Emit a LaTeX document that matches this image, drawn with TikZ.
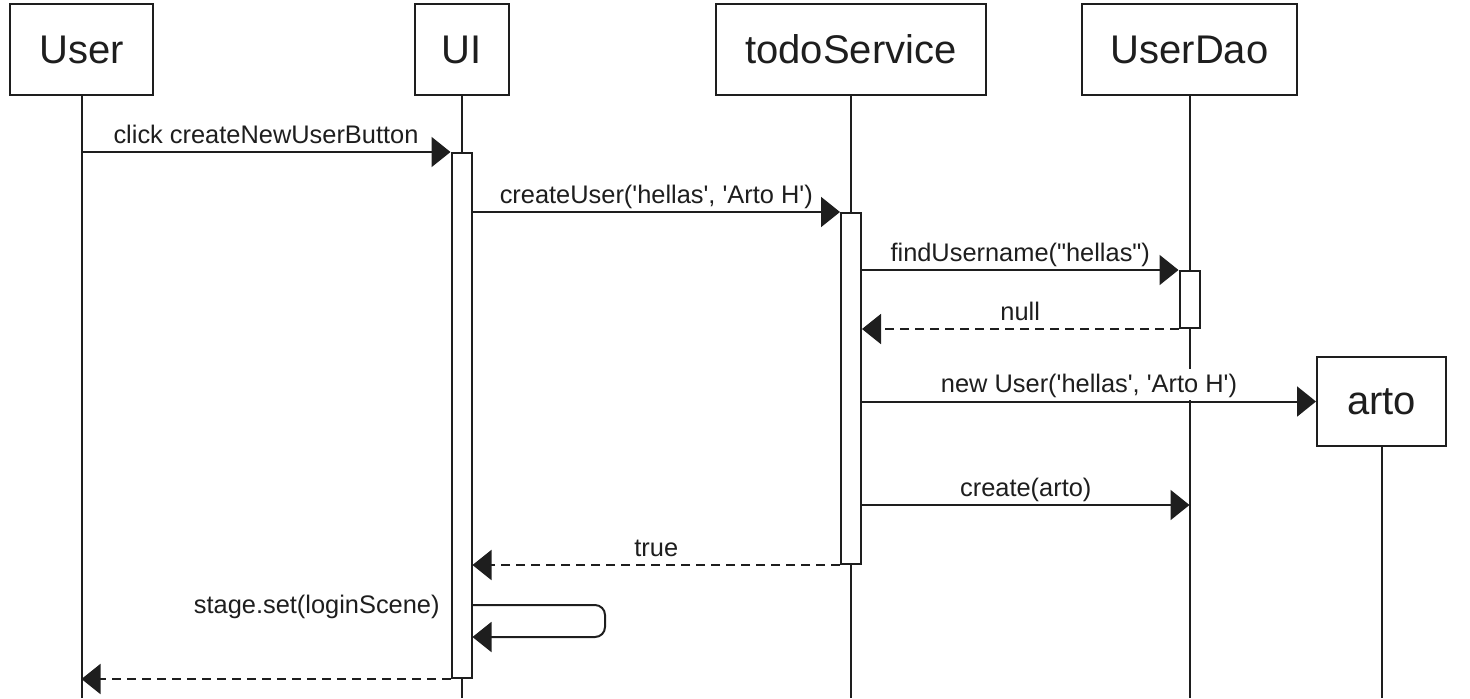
\documentclass[tikz,border=0pt]{standalone}
\usepackage{fontspec}
\setmainfont{Liberation Sans}
\usetikzlibrary{arrows.meta}
\definecolor{ln}{HTML}{1E1E1E}
\begin{document}
\begin{tikzpicture}[x=0.5pt,y=-0.5pt,
  every node/.style={text=ln},
  box/.style={draw=ln, line width=1pt, fill=white, inner sep=0pt, minimum height=45.5pt, font=\fontsize{20}{24}\selectfont},
  bar/.style={draw=ln, line width=1pt, fill=white, inner sep=0pt, minimum width=10pt},
  life/.style={draw=ln, line width=1pt},
  msg/.style={draw=ln, line width=1pt, -{Triangle[length=9.5pt,width=15pt]}},
  ret/.style={msg, dash pattern=on 4.5pt off 3pt},
  lbltext/.style={font=\fontsize{12.7}{15}\selectfont},
  lbl/.style={lbltext, fill=white, inner xsep=1pt, inner ysep=0pt, text height=12pt, text depth=3.5pt, anchor=south, yshift=0.5pt}]
\useasboundingbox (0,0) rectangle (1470,698);
\coordinate (bot) at (0,698);
% participants
\node[box, minimum width=71.5pt] (user) at (81.5,49.5) {User};
\node[box, minimum width=47pt] (ui) at (461.5,49.5) {UI};
\node[box, minimum width=135pt] (svc) at (851,49.5) {todoService};
\node[box, minimum width=107.5pt] (dao) at (1189.5,49.5) {UserDao};
\node[box, minimum width=64.5pt, minimum height=44.5pt] (arto) at (1381.5,401.5) {arto};
% lifelines
\draw[life] (user.south) -- (user.south |- bot);
\draw[life] (ui.south) -- (ui.south |- bot);
\draw[life] (svc.south) -- (svc.south |- bot);
\draw[life] (dao.south) -- (dao.south |- bot);
\draw[life] (arto.south) -- (arto.south |- bot);
% activations
\node[bar, minimum height=262.5pt] (uiact) at (461.5,415.5) {};
\node[bar, minimum height=175.5pt] (svcact) at (851,388.5) {};
\node[bar, minimum height=28.5pt] (daoact) at (1189.5,299.5) {};
% messages
\draw[msg] (user.south |- uiact.north) -- node[lbl]{click createNewUserButton} (uiact.north west);
\draw[msg] (uiact.east |- svcact.north) -- node[lbl]{createUser(\textquotesingle hellas\textquotesingle, \textquotesingle Arto H\textquotesingle)} (svcact.north west);
\draw[msg] (svcact.east |- daoact.north) -- node[lbl]{findUsername(\textquotedbl hellas\textquotedbl)} (daoact.north west);
\draw[ret] (daoact.south west) -- node[lbl]{null} (svcact.east |- daoact.south);
\draw[msg] (svcact.east |- arto.west) -- node[lbl]{new User(\textquotesingle hellas\textquotesingle, \textquotesingle Arto H\textquotesingle)} (arto.west);
\coordinate (c5) at (0,505);
\draw[msg] (svcact.east |- c5) -- node[lbl]{create(arto)} (dao.south |- c5);
\draw[ret] (svcact.south west) -- node[lbl]{true} (uiact.east |- svcact.south);
\coordinate (s1) at (0,605);
\coordinate (s2) at (0,637);
\coordinate (sx) at (605,0);
\draw[msg, rounded corners=5pt] (uiact.east |- s1) -- (sx |- s1) -- (sx |- s2) -- (uiact.east |- s2);
\node[lbltext, anchor=base east, inner sep=0pt] (selflbl) at (440,613) {stage.set(loginScene)};
\draw[ret] (uiact.south west) -- (user.south |- uiact.south);
\end{tikzpicture}
\end{document}
